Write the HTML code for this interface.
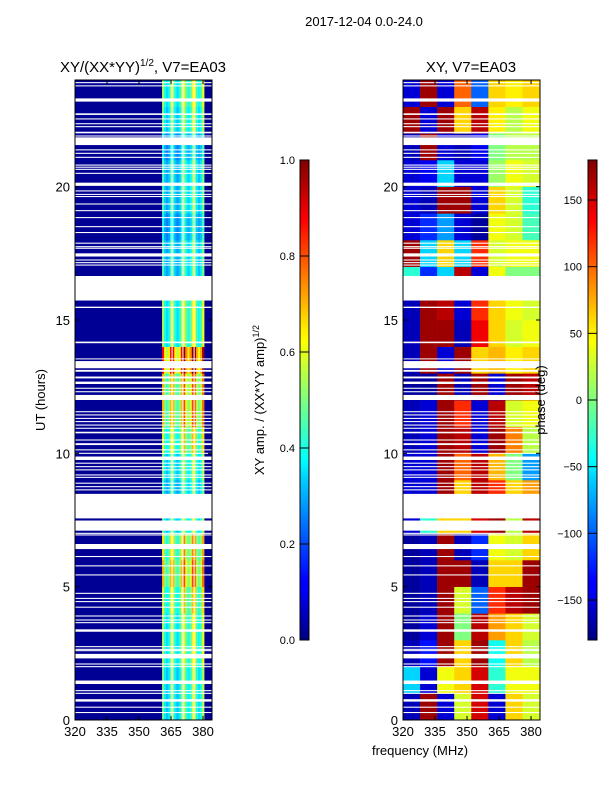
<!DOCTYPE html>
<html><head><meta charset="utf-8">
<style>
html,body{margin:0;padding:0;background:#fff;}
svg{display:block;font-family:"Liberation Sans",sans-serif;}
</style></head>
<body>
<svg id="fig" width="600" height="800" viewBox="0 0 600 800" xmlns="http://www.w3.org/2000/svg">
<defs>
<linearGradient id="jetV" x1="0" y1="1" x2="0" y2="0">
<stop offset="0" stop-color="#000080"/><stop offset="0.11" stop-color="#0000ff"/>
<stop offset="0.125" stop-color="#0000ff"/><stop offset="0.34" stop-color="#00d4ff"/>
<stop offset="0.375" stop-color="#00ffff"/><stop offset="0.5" stop-color="#7fff7f"/>
<stop offset="0.625" stop-color="#ffff00"/><stop offset="0.66" stop-color="#ffe000"/>
<stop offset="0.875" stop-color="#ff0000"/><stop offset="1" stop-color="#800000"/>
</linearGradient>
</defs>
<text x="364" y="26" font-size="13" text-anchor="middle">2017-12-04 0.0-24.0</text>
<text x="143" y="72" font-size="15" text-anchor="middle">XY/(XX*YY)<tspan font-size="10" dy="-6">1/2</tspan><tspan dy="6">, V7=EA03</tspan></text>
<text x="471" y="72" font-size="15" text-anchor="middle">XY, V7=EA03</text>
<g id="ampMap"></g>
<g id="phaseMap"></g>
<g id="axes"></g>
<rect x="300" y="160" width="9" height="480" fill="url(#jetV)" stroke="#000" stroke-width="1"/>
<rect x="588" y="160" width="9" height="480" fill="url(#jetV)" stroke="#000" stroke-width="1"/>
<g id="cbticks"></g>
<text transform="translate(45,400) rotate(-90)" font-size="13" text-anchor="middle">UT (hours)</text>
<text transform="translate(264,400) rotate(-90)" font-size="13" text-anchor="middle">XY amp. / (XX*YY amp)<tspan font-size="9" dy="-5">1/2</tspan></text>
<text transform="translate(545,400) rotate(-90)" font-size="13" text-anchor="middle">phase (deg)</text>
<text x="420" y="755" font-size="13" text-anchor="middle">frequency (MHz)</text>
</svg>
<script>
// ---- data ----
const hourRows = [0,1,2,3,4,5,6,7,8,9,10,11,12,13,14,15,16,17,18,19,20,21,22,23];
const ampBase = [0.5,0.5,0.55,0.55,0.6,0.7,0.65,0.5,0.45,0.5,0.6,0.7,0.7,0.88,0.55,0.55,0.45,0.45,0.4,0.45,0.45,0.4,0.5,0.55];
const ampBandEdges = [360.8,365.5,370.6,375.8,380.5];
const ampBandFactor = [0.9,0.9,1.05,1.0];
const ampSubProfile = [1.1,0.8,0.7,0.8,1.1];
const ampBackground = 0.02;
const phaseFreqEdges = [320,328,336,344,352,360,368,376,384.2];
const phaseVals = [
[-160,170,-150,30,150,-150,60,30],
[-60,-150,40,60,150,-30,40,40],
[-160,-130,170,60,170,-40,60,20],
[-170,-150,170,0,160,80,60,30],
[-170,-160,170,30,-100,120,160,170],
[-170,-160,170,170,-160,60,60,170],
[-170,-160,170,-160,-120,40,30,60],
[-150,-30,60,60,150,170,20,160],
[-150,-150,170,60,160,120,60,80],
[-150,-150,170,100,160,70,0,-80],
[-160,-150,170,160,-150,170,90,20],
[-160,-150,170,120,-150,160,30,40],
[-170,-170,170,-160,170,-150,170,160],
[-160,170,-150,170,60,70,50,60],
[-160,170,170,-160,140,60,30,40],
[-160,170,160,-150,120,60,40,30],
[-30,-120,-60,160,-150,40,0,0],
[170,-60,60,-60,120,30,40,40],
[-150,-120,-80,-150,-170,40,30,-20],
[-150,-160,170,170,-150,60,30,-30],
[-150,-140,-60,-150,-150,10,40,30],
[-160,170,-150,-160,-140,0,20,20],
[170,-150,170,60,160,50,20,40],
[-150,170,-150,100,-100,60,50,60]];
const gapStart = [23.88,23.76,23.19,22.69,22.52,22.34,22.23,22.0,21.88,21.56,21.36,21.23,21.08,20.79,20.71,20.63,20.48,20.03,19.82,19.69,19.61,19.33,19.08,18.82,18.48,18.26,17.86,17.73,17.67,17.38,17.23,17.13,17.04,15.73,15.45,14.13,13.53,13.19,13.06,12.81,12.6,12.42,12.29,12.0,11.54,11.42,11.29,11.17,11.04,10.92,10.75,10.48,10.31,10.11,9.98,9.75,9.61,9.48,9.36,9.17,9.08,8.86,8.73,8.61,7.56,7.1,6.98,6.92,6.41,6.11,5.76,5.42,4.73,4.54,4.42,4.21,3.88,3.73,3.63,3.31,2.73,2.63,2.58,2.31,2.08,1.98,1.35,1.08,0.98,0.69,0.46,0.26];
const gapEnd   = [23.92,23.8,23.31,22.75,22.56,22.38,22.27,22.06,21.92,21.85,21.4,21.27,21.12,20.83,20.75,20.67,20.52,20.15,19.86,19.73,19.65,19.37,19.12,18.86,18.52,18.3,17.9,17.77,17.71,17.5,17.27,17.17,17.08,16.65,15.5,14.19,13.56,13.46,13.13,12.88,12.69,12.46,12.33,12.19,11.58,11.46,11.33,11.21,11.08,10.96,10.81,10.52,10.38,10.15,10.02,9.88,9.65,9.52,9.4,9.21,9.12,8.9,8.77,8.65,8.48,7.48,7.02,6.96,6.6,6.15,5.8,5.46,4.77,4.58,4.46,4.25,3.92,3.77,3.67,3.4,2.77,2.67,2.62,2.48,2.12,2.02,1.48,1.12,1.02,0.78,0.5,0.3];
const yTicks = [0,5,10,15,20];
const xTicks = [320,335,350,365,380];
const ampCbTicks = [0.0,0.2,0.4,0.6,0.8,1.0];
const phaseCbTicks = [-150,-100,-50,0,50,100,150];

// ---- scales ----
const Y0=720, Y1=80, HMAX=24;
const yS = h => Y0 - (h/HMAX)*(Y0-Y1);
const FMIN=320, FMAX=384.2;
const xL = f => 75 + (f-FMIN)/(FMAX-FMIN)*137;
const xR = f => 403 + (f-FMIN)/(FMAX-FMIN)*137;
const NS="http://www.w3.org/2000/svg";
function clamp(v){return Math.max(0,Math.min(1,v));}
function jet(v){v=clamp(v);
 const r=clamp(1.5-Math.abs(4*v-3)),g=clamp(1.5-Math.abs(4*v-2)),b=clamp(1.5-Math.abs(4*v-1));
 return `rgb(${Math.round(r*255)},${Math.round(g*255)},${Math.round(b*255)})`;}
function mk(tag,attrs,parent){const e=document.createElementNS(NS,tag);for(const k in attrs)e.setAttribute(k,attrs[k]);parent.appendChild(e);return e;}

// ---- amplitude heatmap ----
const amp=document.getElementById('ampMap');
let bg=mk('rect',{x:75,y:80,width:137,height:640,fill:jet(ampBackground)},amp);


hourRows.forEach((h,i)=>{
 for(let b=0;b<4;b++){
  const f0=ampBandEdges[b], f1=ampBandEdges[b+1];
  const n=ampSubProfile.length, w=(f1-f0)/n;
  for(let s=0;s<n;s++){
   const v=ampBase[i]*ampBandFactor[b]*ampSubProfile[s];
   const x0=xL(f0+s*w), x1=xL(f0+(s+1)*w);
   const r=mk('rect',{x:x0,y:yS(h+1),width:x1-x0+0.3,height:yS(h)-yS(h+1)+0.3,fill:jet(v)},amp);
   
   
  }
 }
});
ampBandEdges.slice(1,4).forEach(f=>{
 const l=mk('rect',{x:xL(f)-0.5,y:80,width:1,height:640,fill:'#fff'},amp);
 
 
});

// ---- phase heatmap ----
const ph=document.getElementById('phaseMap');
hourRows.forEach((h,i)=>{
 for(let c=0;c<phaseFreqEdges.length-1;c++){
  const x0=xR(phaseFreqEdges[c]), x1=xR(phaseFreqEdges[c+1]);
  const r=mk('rect',{x:x0,y:yS(h+1),width:x1-x0+0.3,height:yS(h)-yS(h+1)+0.3,fill:jet((phaseVals[i][c]+180)/360)},ph);
  
  
 }
});

// ---- flagged gaps ----
gapStart.forEach((g0,i)=>{
 const g1=gapEnd[i];
 [[75,amp],[403,ph]].forEach(([x,par])=>{
  const r=mk('rect',{x:x,y:yS(g1),width:137,height:Math.max(1,yS(g0)-yS(g1)),fill:'#fff'},par);
  
  
 });
});

// ---- axes ----
const ax=document.getElementById('axes');
[[75,xL,'amp'],[403,xR,'phase']].forEach(([x0,xs,nm])=>{
 const fr=mk('rect',{x:x0,y:80,width:137,height:640,fill:'none',stroke:'#000','stroke-width':1},ax);
 
 
 yTicks.forEach(t=>{
  const y=yS(t);
  mk('line',{x1:x0,x2:x0+4,y1:y,y2:y,stroke:'#000'},ax);
  mk('line',{x1:x0+137,x2:x0+133,y1:y,y2:y,stroke:'#000'},ax);
  const tx=mk('text',{x:x0-5,y:y+5,'font-size':13,'text-anchor':'end'},ax);
  tx.textContent=t;
  
  
 });
 xTicks.forEach(t=>{
  const x=xs(t);
  mk('line',{x1:x,x2:x,y1:720,y2:716,stroke:'#000'},ax);
  mk('line',{x1:x,x2:x,y1:80,y2:84,stroke:'#000'},ax);
  const tx=mk('text',{x:x,y:736,'font-size':13,'text-anchor':'middle'},ax);
  tx.textContent=t;
  
  
 });
});

// ---- colorbar ticks ----
const cb=document.getElementById('cbticks');
ampCbTicks.forEach(t=>{
 const y=640-t*480;
 mk('line',{x1:300,x2:309,y1:y,y2:y,stroke:'#000'},cb);
 const tx=mk('text',{x:295,y:y+4,'font-size':11,'text-anchor':'end'},cb);
 tx.textContent=t.toFixed(1);
 
 
});
phaseCbTicks.forEach(t=>{
 const y=640-(t+180)/360*480;
 mk('line',{x1:588,x2:597,y1:y,y2:y,stroke:'#000'},cb);
 const tx=mk('text',{x:582,y:y+4,'font-size':11,'text-anchor':'end'},cb);
 tx.textContent=(t<0?'\u2212'+(-t):String(t));
 
 
});
</script>
</body></html>
